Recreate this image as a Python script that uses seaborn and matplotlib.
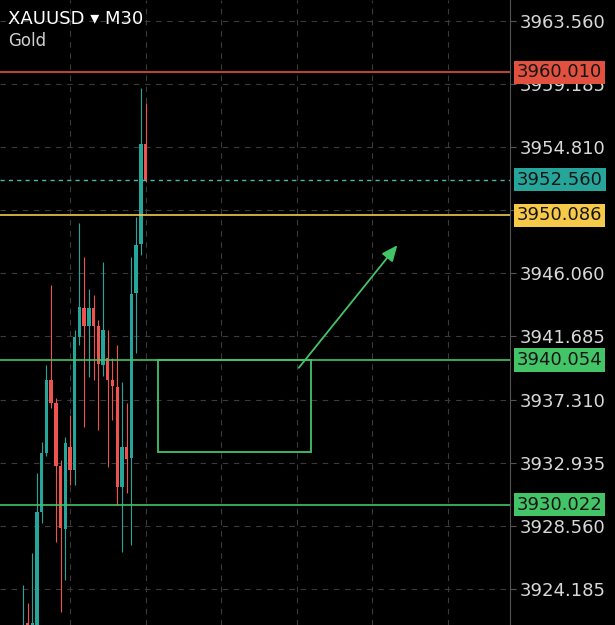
import seaborn as sns
import matplotlib.pyplot as plt
import pandas as pd
from matplotlib.transforms import blended_transform_factory
from matplotlib.patches import Rectangle

# M30 candles, oldest first
opens = [3919.5, 3921.8, 3920.8, 3921.5, 3929.51, 3933.60, 3938.66, 3937.07, 3932.70, 3928.33,
         3934.02, 3932.42, 3941.65, 3943.66, 3942.41, 3943.66, 3942.41, 3939.70, 3940.19, 3938.66,
         3938.18, 3931.24, 3934.02, 3933.26, 3944.70, 3948.10, 3955.03]
closes = [3921.0, 3920.5, 3921.81, 3929.51, 3933.60, 3938.66, 3937.07, 3932.70, 3928.40, 3934.30,
          3932.42, 3941.65, 3943.73, 3942.41, 3943.66, 3942.41, 3939.77, 3942.13, 3938.66, 3938.25,
          3931.24, 3934.02, 3933.19, 3944.63, 3948.03, 3955.03, 3952.56]
highs = [3924.45, 3923.20, 3926.67, 3932.21, 3934.36, 3939.70, 3945.25, 3937.42, 3933.12, 3934.71,
         3936.24, 3942.13, 3949.55, 3947.19, 3944.97, 3944.56, 3942.82, 3946.85, 3942.13, 3940.19,
         3941.09, 3938.53, 3937.07, 3947.19, 3949.97, 3958.91, 3957.87]
lows = [3919.0, 3920.0, 3920.3, 3921.2, 3928.75, 3933.39, 3936.72, 3927.43, 3922.58, 3924.79,
        3931.38, 3931.38, 3941.09, 3935.40, 3938.87, 3938.66, 3935.20, 3938.94, 3932.63, 3935.89,
        3930.00, 3926.74, 3930.83, 3927.22, 3940.54, 3947.33, 3952.40]

price_ticks = [3963.560, 3959.185, 3954.810, 3950.435, 3946.060,
               3941.685, 3937.310, 3932.935, 3928.560, 3924.185]
# 3950.435 sits fully under the yellow tag in the chart, so no text for it
tick_labels = ['3963.560', '3959.185', '3954.810', '', '3946.060',
               '3941.685', '3937.310', '3932.935', '3928.560', '3924.185']
time_grid = [10, 26, 42, 58, 74, 90]

level_prices = [3960.010, 3950.086, 3940.054, 3930.022]
level_colors = ['#e2503f', '#f2c94c', '#43c467', '#43c467']
current_price = 3952.560

zone_x = [28.6, 61.1]
zone_y = [3933.67, 3940.054]
arrow_from = (58.1, 3939.36)
arrow_to = (79.7, 3948.16)

UP = '#26a69a'
DOWN = '#ef5350'
GREEN = '#43c467'

df = pd.DataFrame({'open': opens, 'close': closes, 'high': highs, 'low': lows})
df['bar'] = range(len(df))
df['color'] = [UP if c >= o else DOWN for o, c in zip(df['open'], df['close'])]

sns.set_theme(style='dark', rc={'axes.facecolor': 'black', 'figure.facecolor': 'black'})
plt.rcParams['font.family'] = ['DejaVu Sans']

fig = plt.figure(figsize=(6.15, 6.25), dpi=100)
ax = fig.add_axes([0, 0, 510 / 615, 1])
ax.set_facecolor('black')

# grid
for p in price_ticks:
    ax.axhline(p, color='#3a3a3a', lw=0.8, ls=(0, (5, 5)), zorder=0)
for t in time_grid:
    ax.axvline(t, color='#3a3a3a', lw=0.8, ls=(0, (5, 5)), zorder=0)

# candles
ax.vlines(df['bar'], df['low'], df['high'], colors=df['color'], lw=0.8, zorder=2)
body_low = df[['open', 'close']].min(axis=1)
body_h = (df['close'] - df['open']).abs().clip(lower=0.25)
ax.bar(df['bar'], body_h, bottom=body_low, width=0.72, color=df['color'],
       edgecolor='none', linewidth=0, zorder=3)

# levels
for p, c in zip(level_prices, level_colors):
    ax.axhline(p, color=c, lw=1.2, zorder=4)
ax.axhline(current_price, color='#4db6ac', lw=1.0, ls=(0, (3, 3)), zorder=4)

# zone and arrow
ax.add_patch(Rectangle((zone_x[0], zone_y[0]), zone_x[1] - zone_x[0], zone_y[1] - zone_y[0],
                       fill=False, edgecolor=GREEN, lw=1.3, zorder=4))
ax.annotate('', xy=arrow_to, xytext=arrow_from,
            arrowprops=dict(arrowstyle='-|>,head_length=0.8,head_width=0.35',
                            color=GREEN, lw=1.3), zorder=5)

ax.set_xlim(-4.83, 103.2)
ax.set_ylim(3921.67, 3965.02)
ax.set_xticks([])
ax.yaxis.tick_right()
ax.set_yticks(price_ticks)
ax.set_yticklabels(tick_labels)
ax.tick_params(axis='y', colors='#555555', labelcolor='#d8d8d8', length=4, width=0.8,
               pad=3, labelsize=13, right=True)
for side in ['top', 'left', 'bottom']:
    ax.spines[side].set_visible(False)
ax.spines['right'].set_color('#555555')
ax.spines['right'].set_linewidth(0.8)

# price tags on the axis
trans = blended_transform_factory(ax.transAxes, ax.transData)
tags = [(3960.010, '#e2503f'), (current_price, '#26a69a'), (3950.086, '#f7c948'),
        (3940.054, '#43c467'), (3930.022, '#43c467')]
for p, c in tags:
    ax.annotate(f'{p:.3f}', xy=(1, p), xycoords=trans, xytext=(7, 0),
                textcoords='offset pixels', ha='left', va='center', fontsize=13,
                color='#161616', annotation_clip=False, zorder=10,
                bbox=dict(boxstyle='square,pad=0.15', fc=c, ec='none'))

fig.text(8 / 615, 1 - 24 / 625, 'XAUUSD \u25be M30', color='white', fontsize=13,
         family=['DejaVu Sans'], va='baseline')
fig.text(8 / 615, 1 - 46 / 625, 'Gold', color='#d0d0d0', fontsize=12, va='baseline')

fig.savefig('out.png', dpi=100, facecolor='black')
